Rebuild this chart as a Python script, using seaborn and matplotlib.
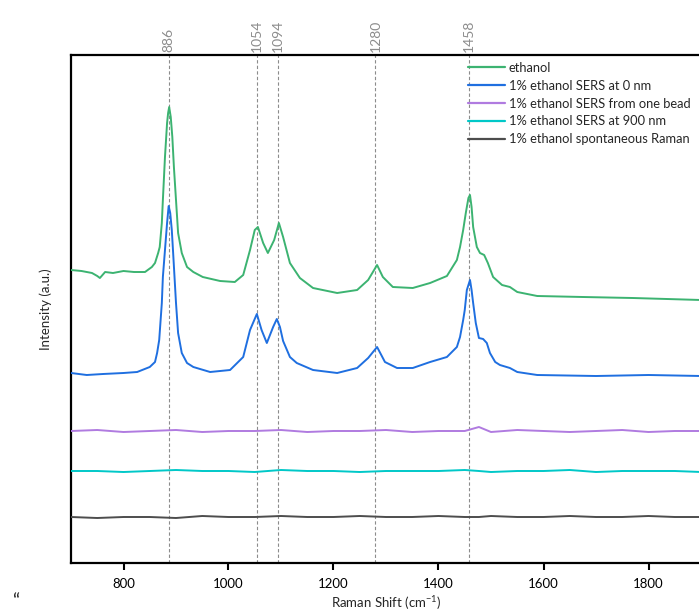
import numpy as np
import pandas as pd
import matplotlib
matplotlib.use("Agg")
import matplotlib.pyplot as plt
import seaborn as sns

# Raman shift (cm^-1) and intensity (a.u.) for each spectrum
ethanol_shift = [700, 720, 740, 750, 755, 765, 780, 800, 820, 841, 854, 860, 866, 869, 873, 875,
                 879, 883, 885, 887, 890, 893, 896, 900, 904, 911, 921, 933, 951, 984, 1012, 1028,
                 1041, 1050, 1056, 1066, 1075, 1087, 1096, 1104, 1117, 1136, 1161, 1207, 1245, 1266,
                 1283, 1294, 1313, 1351, 1384, 1416, 1435, 1441, 1447, 1452, 1457, 1460, 1463, 1466,
                 1473, 1479, 1487, 1494, 1504, 1521, 1536, 1550, 1588, 1675, 1770, 1900]
ethanol_int = [293, 292, 290, 287, 285, 291, 290, 292, 291, 291, 296, 300, 310, 316, 340, 363,
               406, 440, 450, 456, 446, 426, 396, 363, 330, 310, 296, 291, 286, 282, 281, 288,
               313, 333, 336, 320, 310, 323, 340, 326, 300, 285, 275, 270, 273, 283,
               298, 286, 276, 275, 280, 287, 303, 316, 333, 350, 365, 368, 356, 336,
               316, 310, 308, 300, 286, 278, 276, 271, 267, 266, 265, 263]

sers0_shift = [700, 730, 761, 800, 826, 850, 860, 864, 868, 873, 875, 879, 883, 886, 889, 892,
               895, 900, 904, 911, 921, 933, 965, 1003, 1028, 1041, 1054, 1063, 1073, 1085, 1092,
               1098, 1104, 1117, 1130, 1161, 1207, 1245, 1266, 1283, 1298, 1321, 1351, 1384, 1416,
               1435, 1441, 1447, 1450, 1454, 1457, 1460, 1463, 1466, 1471, 1477, 1485, 1492, 1498,
               1508, 1517, 1536, 1550, 1588, 1700, 1800, 1900]
sers0_int = [190, 188, 189, 190, 191, 196, 201, 210, 223, 260, 286, 313, 340, 357, 350, 333,
             306, 260, 230, 210, 200, 196, 191, 193, 206, 233, 249, 233, 220, 236, 244,
             236, 222, 206, 200, 193, 190, 195, 205, 216, 201, 195, 195, 201, 206,
             216, 226, 243, 253, 273, 278, 283, 273, 260, 240, 225, 224, 220, 210,
             201, 198, 195, 191, 188, 187, 188, 187]

flat_shift = [700, 750, 800, 850, 900, 950, 1000, 1050, 1100, 1150, 1200, 1250, 1300, 1350,
              1400, 1450, 1477, 1500, 1550, 1600, 1650, 1700, 1750, 1800, 1850, 1900]
bead_int = [132, 133, 131, 132, 133, 131, 132, 132, 133, 131, 132, 132, 133, 131,
            132, 132, 136, 131, 133, 132, 131, 132, 133, 131, 132, 132]
sers900_int = [92, 92, 91, 92, 93, 92, 92, 91, 93, 92, 92, 91, 92, 92,
               92, 93, 92, 91, 92, 92, 93, 91, 92, 92, 92, 91]
spont_int = [46, 45, 46, 46, 45, 47, 46, 46, 47, 46, 46, 47, 46, 46,
             47, 46, 46, 47, 46, 46, 47, 46, 46, 47, 46, 46]

peak_positions = [886, 1054, 1094, 1280, 1458]

series = [
    ("ethanol", ethanol_shift, ethanol_int, "#3cb371"),
    ("1% ethanol SERS at 0 nm", sers0_shift, sers0_int, "#1f6fe0"),
    ("1% ethanol SERS from one bead", flat_shift, bead_int, "#b07be0"),
    ("1% ethanol SERS at 900 nm", flat_shift, sers900_int, "#00c8c8"),
    ("1% ethanol spontaneous Raman", flat_shift, spont_int, "#4d4d4d"),
]

sns.set_theme(style="white")
plt.rcParams["font.family"] = ["Lato", "DejaVu Sans"]
plt.rcParams["mathtext.default"] = "regular"

W, H = 699, 615
fig = plt.figure(figsize=(W / 100, H / 100), dpi=100)
x_min, x_max = 700, 1900
px_per_unit = 0.525
ax_left, ax_bottom, ax_top = 71, 563, 55
ax = fig.add_axes([ax_left / W, 1 - ax_bottom / H,
                   (x_max - x_min) * px_per_unit / W, (ax_bottom - ax_top) / H])

for peak in peak_positions:
    ax.axvline(peak, color="#8c8c8c", lw=0.8, ls=(0, (3, 2)), zorder=1)
    ax.text(peak, 1.006, str(peak), transform=ax.get_xaxis_transform(),
            rotation=90, ha="center", va="bottom", color="#8c8c8c", fontsize=10)

for name, xs, ys, color in series:
    sns.lineplot(x=xs, y=ys, ax=ax, color=color, lw=1.4, label=name, zorder=3)

ax.set_xlim(x_min, x_max)
ax.set_ylim(0, 508)
ax.set_yticks([])
ax.set_xticks([800, 1000, 1200, 1400, 1600, 1800])
ax.tick_params(axis="x", direction="out", length=5, width=1.5, bottom=True,
               labelsize=9.5, colors="black", pad=6)
for side in ["left", "bottom", "top", "right"]:
    ax.spines[side].set_visible(True)
    ax.spines[side].set_color("black")
    ax.spines[side].set_linewidth(1.6)

ax.set_xlabel("Raman Shift (cm$^{-1}$)", fontsize=9.5, labelpad=3)
ax.set_ylabel("Intensity (a.u.)", fontsize=9.5, labelpad=14)

leg = ax.legend(loc="upper left", bbox_to_anchor=(468 / W, 1 - 62 / H),
                bbox_transform=fig.transFigure, frameon=False, fontsize=9.3,
                handlelength=2.9, handletextpad=0.25, labelspacing=0.45,
                borderaxespad=0, borderpad=0)
for line in leg.get_lines():
    line.set_linewidth(1.6)

fig.text(12 / W, 1 - 602 / H, "\u201c", fontsize=14, ha="left", va="center")

fig.savefig("out.png", dpi=100)
